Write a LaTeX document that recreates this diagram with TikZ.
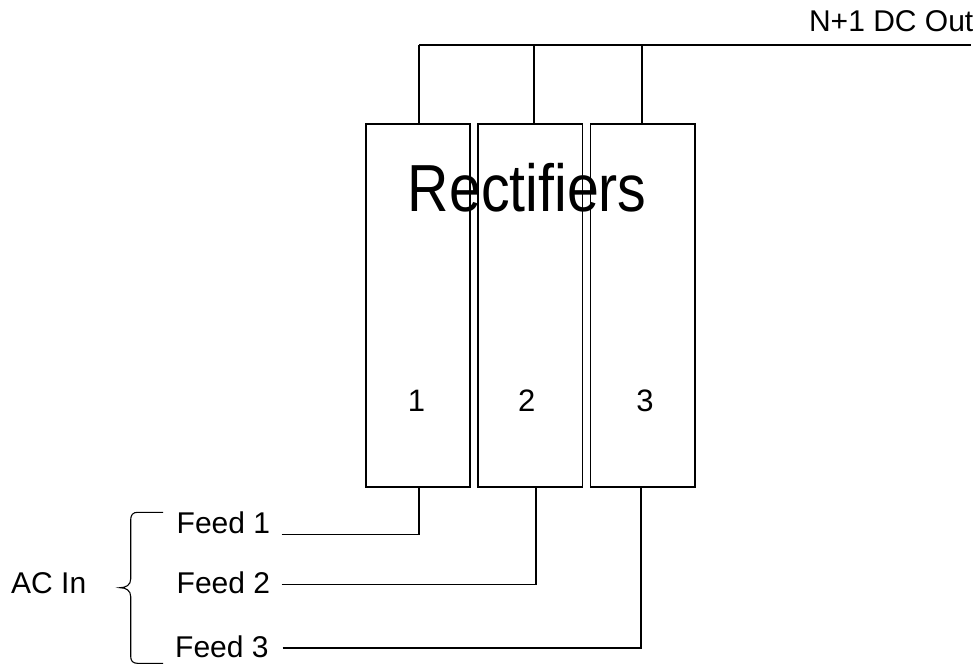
\documentclass[tikz,border=0pt]{standalone}
\usepackage{fontspec}
\setmainfont{Liberation Sans}
\begin{document}
\begin{tikzpicture}[x=1pt,y=-1pt,
  wire/.style={line width=1.6pt,black},
  rect/.style={draw,line width=1.6pt,minimum width=104.3pt,minimum height=363pt,inner sep=0pt},
  lbl/.style={font=\fontsize{30}{34}\selectfont,inner sep=0pt},
  num/.style={font=\fontsize{31}{34}\selectfont,inner sep=0pt}]
\useasboundingbox (0,0) rectangle (977,667);
% rectifier boxes
\node[rect] (b1) at (417.85,305.2) {};
\node[rect] (b2) at (530.15,305.2) {};
\node[rect] (b3) at (642.65,305.2) {};
\node[num,anchor=base] (n1) at (416.5,411.5) {1};
\node[num,anchor=base] (n2) at (526.7,411.5) {2};
\node[num,anchor=base] (n3) at (645,411.5) {3};
\node[anchor=base,inner sep=0pt,font=\fontsize{66.6}{70}\selectfont] (title) at (527.3,211.7) {\scalebox{0.86}[1]{Rectifiers}};
% DC output bus
\coordinate (t1) at (419,45);
\coordinate (t2) at (534,45);
\coordinate (t3) at (641.7,45);
\coordinate (tend) at (971,45);
\draw[wire] (t1) -- (tend);
\draw[wire] (t1) -- (t1 |- b1.north);
\draw[wire] (t2) -- (t2 |- b2.north);
\draw[wire] (t3) -- (t3 |- b3.north);
\node[lbl,anchor=base east] (dc) at (973.5,31.7) {N+1 DC Out};
% AC feeds
\node[lbl,anchor=base west] (f1) at (176.5,533) {Feed 1};
\node[lbl,anchor=base west] (f2) at (176.5,593) {Feed 2};
\node[lbl,anchor=base west] (f3) at (175,657.5) {Feed 3};
\node[lbl,anchor=base west] (ac) at (11,593) {AC In};
\coordinate (c1) at (281.7,534.3);
\coordinate (c2) at (281.7,584.3);
\coordinate (c3) at (282.7,648);
\coordinate (d1) at (419,534.3);
\coordinate (d2) at (536,584.3);
\coordinate (d3) at (641,648);
\draw[wire] (c1) -- (d1) -- (d1 |- b1.south);
\draw[wire] (c2) -- (d2) -- (d2 |- b2.south);
\draw[wire] (c3) -- (d3) -- (d3 |- b3.south);
% brace
\draw[line width=1.1pt] (163,512.3) -- (137.5,512.3)
  .. controls (133,512.3) and (130.7,515) .. (130.7,519.5)
  -- (130.7,579)
  .. controls (130.7,585) and (126,587.7) .. (120,587.7)
  .. controls (126,587.7) and (130.7,590.5) .. (130.7,596.5)
  -- (130.7,656.5)
  .. controls (130.7,661) and (133,663.3) .. (137.5,663.3)
  -- (163,663.3);
\end{tikzpicture}
\end{document}
